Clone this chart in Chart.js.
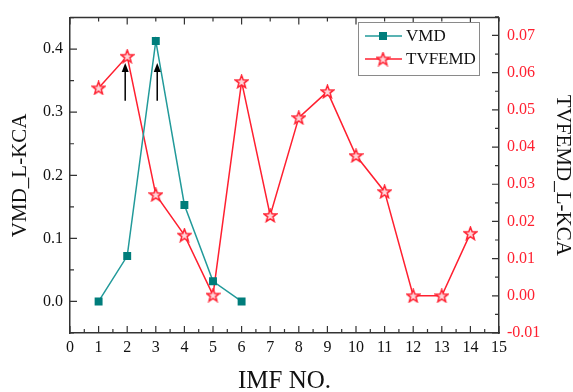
<!DOCTYPE html>
<html>
<head>
<meta charset="utf-8">
<script src="https://cdn.jsdelivr.net/npm/chart.js@4"></script>
<style>
  html, body { margin: 0; padding: 0; background: #fff; }
  #wrap { width: 573px; height: 392px; }
</style>
</head>
<body>
<div id="wrap"><canvas id="myChart" width="573" height="392"></canvas></div>
<script>
// IMF index along the x-axis
var imfVmd = [1, 2, 3, 4, 5, 6];
var imfTvf = [1, 2, 3, 4, 5, 6, 7, 8, 9, 10, 11, 12, 13, 14];
// L-KCA values
var vmdKca = [0.000, 0.072, 0.413, 0.153, 0.032, 0.000];
var tvfemdKca = [0.0559, 0.0644, 0.0272, 0.0163, 0.0002, 0.0576, 0.0216, 0.0479, 0.0549, 0.0377, 0.0280, 0.0000, 0.0000, 0.0168];
// tick labels
var xTicks = [0, 1, 2, 3, 4, 5, 6, 7, 8, 9, 10, 11, 12, 13, 14, 15];
var leftTicks = [0.0, 0.1, 0.2, 0.3, 0.4];
var rightTicks = [-0.01, 0.00, 0.01, 0.02, 0.03, 0.04, 0.05, 0.06, 0.07];
// the two arrows (x, from, to on the left axis)
var arrowX = [1.93, 3.05];
var arrowFrom = 0.318;
var arrowTo = 0.378;

var TEAL_LINE = '#229a9a';
var TEAL = '#007d7b';
var RED = '#ff2030';
var AXIS = '#333333';
var SERIF = "'Liberation Serif', 'Times New Roman', serif";

// five point star, drawn once and used as point style
function makeStar(size) {
  var c = document.createElement('canvas');
  c.width = size; c.height = size;
  var g = c.getContext('2d');
  var cx = size / 2, cy = size / 2 + 0.5, ro = size / 2 - 0.8, ri = ro * 0.42;
  g.beginPath();
  for (var i = 0; i < 10; i++) {
    var r = (i % 2 == 0) ? ro : ri;
    var a = -Math.PI / 2 + i * Math.PI / 5;
    var px = cx + r * Math.cos(a), py = cy + r * Math.sin(a);
    if (i == 0) g.moveTo(px, py); else g.lineTo(px, py);
  }
  g.closePath();
  g.fillStyle = '#ffd6da';
  g.fill();
  g.lineWidth = 1.5;
  g.strokeStyle = RED;
  g.stroke();
  return c;
}
var star = makeStar(15);

function pts(xs, ys) {
  return xs.map(function (x, i) { return { x: x, y: ys[i] }; });
}

// inward ticks, top frame line, arrows and the boxed legend
var decorations = {
  id: 'decorations',
  afterDatasetsDraw: function (chart) {
    var ctx = chart.ctx, a = chart.chartArea;
    var sx = chart.scales.x, sl = chart.scales.y, sr = chart.scales.y2;
    ctx.save();
    ctx.strokeStyle = AXIS;
    ctx.lineWidth = 1.5;
    ctx.beginPath();
    ctx.moveTo(a.left, a.top); ctx.lineTo(a.right, a.top);
    ctx.stroke();
    ctx.lineWidth = 1.2;
    ctx.beginPath();
    for (var v = 0; v <= 15; v += 0.5) {
      var px = sx.getPixelForValue(v);
      var big = (v % 1 == 0);
      ctx.moveTo(px, a.bottom); ctx.lineTo(px, a.bottom - (big ? 7 : 4));
      if (v % 1 == 0) {
        var topBig = (v % 2 == 0);
        ctx.moveTo(px, a.top); ctx.lineTo(px, a.top + (topBig ? 7 : 4));
      }
    }
    for (var k = -1; k <= 9; k++) {
      var val = k * 0.05;
      var py = sl.getPixelForValue(val);
      ctx.moveTo(a.left, py); ctx.lineTo(a.left + (k % 2 == 0 ? 7 : 4), py);
    }
    for (var m = -2; m <= 15; m++) {
      var rv = m * 0.005;
      var ry = sr.getPixelForValue(rv);
      ctx.moveTo(a.right, ry); ctx.lineTo(a.right - (m % 2 == 0 ? 7 : 4), ry);
    }
    ctx.stroke();

    // arrows
    ctx.strokeStyle = '#000';
    ctx.fillStyle = '#000';
    ctx.lineWidth = 1.5;
    arrowX.forEach(function (ax) {
      var x = sx.getPixelForValue(ax);
      var y0 = sl.getPixelForValue(arrowFrom), y1 = sl.getPixelForValue(arrowTo);
      ctx.beginPath();
      ctx.moveTo(x, y0); ctx.lineTo(x, y1 + 6);
      ctx.stroke();
      ctx.beginPath();
      ctx.moveTo(x, y1); ctx.lineTo(x - 3.5, y1 + 9); ctx.lineTo(x + 3.5, y1 + 9);
      ctx.closePath();
      ctx.fill();
    });

    // legend box
    var lx = 358, ly = 22, lw = 121, lh = 53;
    ctx.fillStyle = '#fff';
    ctx.fillRect(lx, ly, lw, lh);
    ctx.strokeStyle = '#8a8a8a';
    ctx.lineWidth = 1;
    ctx.strokeRect(lx + 0.5, ly + 0.5, lw, lh);
    var rows = [
      { label: 'VMD', y: ly + 14, color: TEAL_LINE },
      { label: 'TVFEMD', y: ly + 37, color: RED }
    ];
    rows.forEach(function (r, i) {
      ctx.strokeStyle = r.color;
      ctx.lineWidth = 1.5;
      ctx.beginPath();
      ctx.moveTo(lx + 7, r.y); ctx.lineTo(lx + 44, r.y);
      ctx.stroke();
      if (i == 0) {
        ctx.fillStyle = TEAL;
        ctx.fillRect(lx + 21, r.y - 4, 8, 8);
      } else {
        ctx.drawImage(star, lx + 25 - 7.5, r.y - 7.5);
      }
      ctx.fillStyle = '#111';
      ctx.font = '17px ' + SERIF;
      ctx.textBaseline = 'middle';
      ctx.textAlign = 'left';
      ctx.fillText(r.label, lx + 48, r.y + 1);
    });
    ctx.restore();
  }
};

var ctx = document.getElementById('myChart');
var myChart = new Chart(ctx, {
  type: 'line',
  data: {
    datasets: [
      {
        label: 'VMD',
        data: pts(imfVmd, vmdKca),
        yAxisID: 'y',
        borderColor: TEAL_LINE,
        borderWidth: 1.5,
        pointStyle: 'rect',
        pointRadius: 5.6,
        pointBackgroundColor: TEAL,
        pointBorderColor: TEAL,
        pointBorderWidth: 0,
        fill: false,
        tension: 0
      },
      {
        label: 'TVFEMD',
        data: pts(imfTvf, tvfemdKca),
        yAxisID: 'y2',
        borderColor: RED,
        borderWidth: 1.5,
        pointStyle: star,
        pointRadius: 7.5,
        fill: false,
        tension: 0
      }
    ]
  },
  options: {
    responsive: false,
    animation: false,
    layout: { padding: { top: 14, left: 0, right: 0, bottom: 0 } },
    plugins: {
      legend: { display: false },
      tooltip: { enabled: false }
    },
    scales: {
      x: {
        type: 'linear',
        position: 'bottom',
        min: 0, max: 15,
        afterBuildTicks: function (s) { s.ticks = xTicks.map(function (v) { return { value: v }; }); },
        afterFit: function (s) { s.height = 59; },
        ticks: { color: '#111', padding: 5, font: { family: SERIF, size: 16 }, maxRotation: 0 },
        grid: { drawOnChartArea: false, drawTicks: false },
        border: { display: true, color: AXIS, width: 1.5 },
        title: { display: true, text: 'IMF NO.', color: '#111', padding: { top: 0, bottom: 0 },
                 font: { family: SERIF, size: 25, lineHeight: 0.88 } }
      },
      y: {
        type: 'linear',
        position: 'left',
        min: -0.05, max: 0.45,
        afterBuildTicks: function (s) { s.ticks = leftTicks.map(function (v) { return { value: v }; }); },
        afterFit: function (s) { s.width = 70; },
        ticks: { color: '#111', padding: 7, font: { family: SERIF, size: 16 },
                 callback: function (v) { return v.toFixed(1); } },
        grid: { drawOnChartArea: false, drawTicks: false },
        border: { display: true, color: AXIS, width: 1.5 },
        title: { display: true, text: 'VMD_L-KCA', color: '#111', padding: { top: 10, bottom: 0 },
                 font: { family: SERIF, size: 21, lineHeight: 1 } }
      },
      y2: {
        type: 'linear',
        position: 'right',
        min: -0.01, max: 0.0748,
        afterBuildTicks: function (s) { s.ticks = rightTicks.map(function (v) { return { value: v }; }); },
        afterFit: function (s) { s.width = 74; },
        ticks: { color: RED, padding: 8, font: { family: SERIF, size: 16 },
                 callback: function (v) { return v.toFixed(2); } },
        grid: { drawOnChartArea: false, drawTicks: false },
        border: { display: true, color: AXIS, width: 1.5 },
        title: { display: true, text: 'TVFEMD_L-KCA', color: '#111', padding: { top: 0, bottom: 0 },
                 font: { family: SERIF, size: 21, lineHeight: 1 } }
      }
    }
  },
  plugins: [decorations]
});
</script>
</body>
</html>
